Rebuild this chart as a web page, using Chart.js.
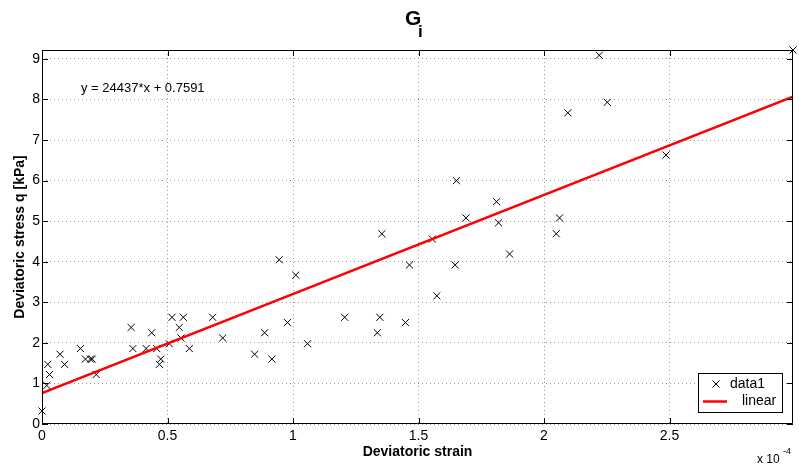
<!DOCTYPE html>
<html>
<head>
<meta charset="utf-8">
<script src="https://cdn.jsdelivr.net/npm/chart.js@4.4.0/dist/chart.umd.min.js"></script>
<style>
  body { margin: 0; background: #fff; }
</style>
</head>
<body>
<canvas id="myChart" width="799" height="470"></canvas>
<script>
// Deviatoric strain, in units of 1e-4 (as on the axis)
var strain = [0, 0.019, 0.023, 0.03, 0.072, 0.09, 0.153, 0.173, 0.193, 0.2,
  0.216, 0.355, 0.362, 0.415, 0.437, 0.457, 0.468, 0.473, 0.507, 0.518,
  0.547, 0.554, 0.563, 0.587, 0.68, 0.72, 0.847, 0.887, 0.916, 0.945,
  0.978, 1.011, 1.058, 1.206, 1.336, 1.346, 1.354, 1.448, 1.464, 1.555,
  1.573, 1.646, 1.651, 1.689, 1.811, 1.819, 1.863, 2.049, 2.062, 2.095,
  2.22, 2.252, 2.486, 2.992];
// Deviatoric stress q [kPa]
var stress = [0.32, 0.95, 1.47, 1.22, 1.72, 1.47, 1.86, 1.6, 1.6, 1.6,
  1.22, 2.38, 1.86, 1.86, 2.25, 1.86, 1.47, 1.6, 1.98, 2.63,
  2.38, 2.12, 2.63, 1.86, 2.63, 2.12, 1.72, 2.25, 1.6, 4.05,
  2.5, 3.67, 1.98, 2.63, 2.25, 2.63, 4.69, 2.5, 3.92, 4.56,
  3.16, 3.92, 6.0, 5.08, 5.48, 4.96, 4.19, 4.69, 5.08, 7.67,
  9.09, 7.93, 6.63, 9.22];

// linear fit: y = slope*x + intercept (x as real strain)
var slope = 24437;
var intercept = 0.7591;

var xTicks = [0, 0.5, 1, 1.5, 2, 2.5];
var yTicks = [0, 1, 2, 3, 4, 5, 6, 7, 8, 9];
var xMax = 2.992;
var yMax = 9.22;

Chart.defaults.font.family = '"Liberation Sans", Arial, sans-serif';
Chart.defaults.color = '#000';

var points = strain.map(function (s, i) { return { x: s, y: stress[i] }; });
var fitLine = [0, xMax].map(function (s) { return { x: s, y: slope * s * 1e-4 + intercept }; });

// frame, inward ticks, title, equation, exponent and legend
var matlabLook = {
  id: 'matlabLook',
  afterDraw: function (chart) {
    var ctx = chart.ctx;
    var a = chart.chartArea;
    var xs = chart.scales.x, ys = chart.scales.y;
    ctx.save();
    ctx.strokeStyle = '#000';
    ctx.lineWidth = 1;
    ctx.beginPath();
    ctx.rect(a.left + 0.5, a.top + 0.5, a.right - a.left - 1, a.bottom - a.top - 1);
    xs.ticks.forEach(function (t) {
      var px = Math.round(xs.getPixelForValue(t.value)) + 0.5;
      ctx.moveTo(px, a.bottom); ctx.lineTo(px, a.bottom - 6);
      ctx.moveTo(px, a.top); ctx.lineTo(px, a.top + 6);
    });
    ys.ticks.forEach(function (t) {
      var py = Math.round(ys.getPixelForValue(t.value)) + 0.5;
      ctx.moveTo(a.left, py); ctx.lineTo(a.left + 6, py);
      ctx.moveTo(a.right, py); ctx.lineTo(a.right - 6, py);
    });
    ctx.stroke();

    // title G_i
    ctx.fillStyle = '#000';
    ctx.textBaseline = 'alphabetic';
    ctx.textAlign = 'left';
    ctx.font = 'bold 21px "Liberation Sans", Arial, sans-serif';
    ctx.fillText('G', 405, 25);
    ctx.font = 'bold 17px "Liberation Sans", Arial, sans-serif';
    ctx.fillText('i', 418, 37);

    // fit equation
    ctx.font = '13px "Liberation Sans", Arial, sans-serif';
    ctx.textBaseline = 'middle';
    ctx.fillText('y = ' + slope + '*x + ' + intercept, 81, 88);

    // axis exponent
    ctx.textBaseline = 'alphabetic';
    ctx.font = '12px "Liberation Sans", Arial, sans-serif';
    ctx.fillText('x 10', 757, 463);
    ctx.font = '9px "Liberation Sans", Arial, sans-serif';
    ctx.fillText('-4', 783, 454);

    // legend
    ctx.fillStyle = '#fff';
    ctx.fillRect(698.5, 373.5, 84, 39);
    ctx.strokeRect(698.5, 373.5, 84, 39);
    ctx.beginPath();
    ctx.moveTo(712.5, 380.5); ctx.lineTo(719.5, 387.5);
    ctx.moveTo(719.5, 380.5); ctx.lineTo(712.5, 387.5);
    ctx.stroke();
    ctx.strokeStyle = '#ff0000';
    ctx.lineWidth = 2.5;
    ctx.beginPath();
    ctx.moveTo(703, 401.5); ctx.lineTo(727, 401.5);
    ctx.stroke();
    ctx.fillStyle = '#000';
    ctx.font = '14px "Liberation Sans", Arial, sans-serif';
    ctx.textBaseline = 'middle';
    ctx.fillText('data1', 730, 384);
    ctx.fillText('linear', 742, 401);
    ctx.restore();
  }
};

var ctx = document.getElementById('myChart');
var myChart = new Chart(ctx, {
  type: 'scatter',
  data: {
    datasets: [{
      label: 'data1',
      data: points,
      pointStyle: 'crossRot',
      pointRadius: 5,
      pointHoverRadius: 5,
      borderColor: '#000',
      backgroundColor: '#000',
      borderWidth: 1,
      clip: false,
      order: 1
    }, {
      label: 'linear',
      type: 'line',
      data: fitLine,
      borderColor: '#ff0000',
      borderWidth: 2.5,
      pointRadius: 0,
      fill: false,
      order: 0
    }]
  },
  options: {
    responsive: false,
    animation: false,
    layout: { padding: { top: 50, right: 4, left: 0, bottom: 0 } },
    plugins: {
      legend: { display: false },
      tooltip: { enabled: false }
    },
    scales: {
      x: {
        type: 'linear',
        min: 0,
        max: xMax,
        afterBuildTicks: function (scale) {
          scale.ticks = xTicks.map(function (v) { return { value: v }; });
        },
        afterFit: function (scale) { scale.height = 46; },
        ticks: {
          font: { size: 14 },
          padding: 4,
          maxRotation: 0,
          callback: function (v) { return String(v); }
        },
        grid: { color: '#9a9a9a', lineWidth: 1, drawTicks: false },
        border: { display: false, dash: [1, 3] },
        title: {
          display: true,
          text: 'Deviatoric strain',
          font: { size: 14, weight: 'bold' },
          padding: { top: 0, bottom: 9 }
        }
      },
      y: {
        min: 0,
        max: yMax,
        afterBuildTicks: function (scale) {
          scale.ticks = yTicks.map(function (v) { return { value: v }; });
        },
        afterFit: function (scale) { scale.width = 42; },
        ticks: {
          font: { size: 14 },
          padding: 2,
          callback: function (v) { return String(v); }
        },
        grid: { color: '#9a9a9a', lineWidth: 1, drawTicks: false },
        border: { display: false, dash: [1, 3] },
        title: {
          display: true,
          text: 'Deviatoric stress q [kPa]',
          font: { size: 14, weight: 'bold' },
          padding: { top: 12, bottom: 0 }
        }
      }
    }
  },
  plugins: [matlabLook]
});
</script>
</body>
</html>
